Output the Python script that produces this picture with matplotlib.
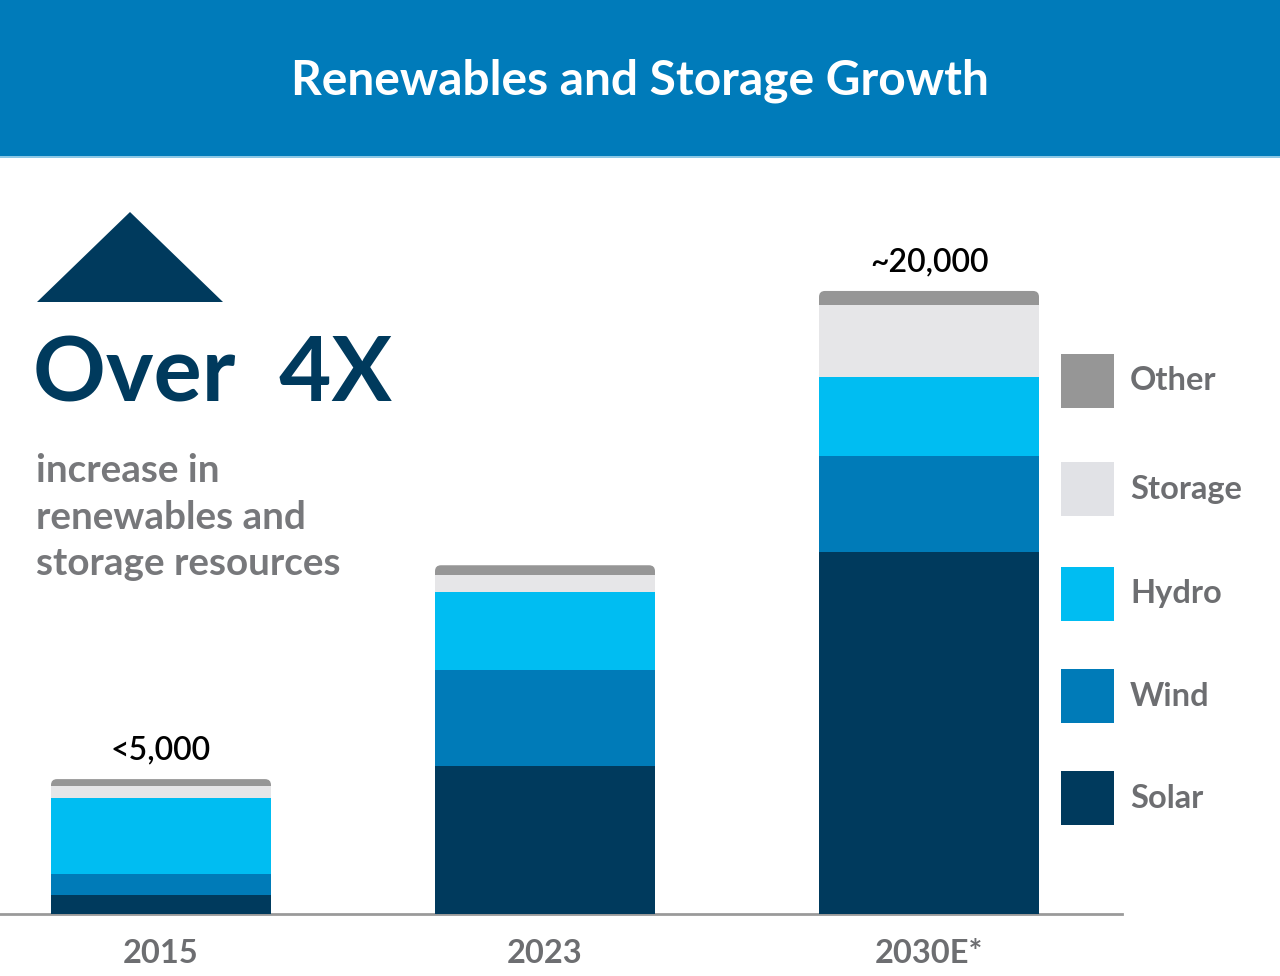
import matplotlib
matplotlib.use("Agg")
import matplotlib.pyplot as plt
from matplotlib.patches import Rectangle, Polygon, FancyBboxPatch

# ---- data ----
categories = ["2015", "2023", "2030E*"]
solar = [610, 4750, 11620]
wind = [670, 3080, 3080]
hydro = [2440, 2500, 2540]
storage = [385, 545, 2310]
other = [225, 320, 450]
total_labels = ["<5,000", "", "~20,000"]

series_names = ["Solar", "Wind", "Hydro", "Storage", "Other"]
series_colors = ["#003a5d", "#007bb8", "#00bdf2", "#e6e6e8", "#969696"]
legend_colors = ["#003a5d", "#007bb8", "#00bdf2", "#e1e2e6", "#969696"]

W, H = 1280, 976
fig = plt.figure(figsize=(W / 100, H / 100), dpi=100)
fig.patch.set_facecolor("white")


def fx(x):
    return x / W


def fy(y):
    return 1 - y / H


FONT = ["Lato", "DejaVu Sans"]

# header band
fig.patches.append(Rectangle((0, fy(157)), 1, 157 / H, transform=fig.transFigure,
                             facecolor="#007bba", edgecolor="none", zorder=0))
fig.patches.append(Rectangle((0, fy(158)), 1, 2 / H, transform=fig.transFigure,
                             facecolor="#8cc8e6", edgecolor="none", zorder=0))
fig.text(0.5, fy(81), "Renewables and Storage Growth", ha="center", va="center",
         fontsize=34.5, color="white", family=FONT, weight="bold")

# triangle
fig.patches.append(Polygon([(fx(37), fy(302)), (fx(223), fy(302)), (fx(130), fy(212))],
                           closed=True, transform=fig.transFigure,
                           facecolor="#003a5d", edgecolor="none"))
fig.text(fx(33), fy(402), "Over  4X", ha="left", va="baseline",
         fontsize=65, color="#003a5d", family=FONT, weight="bold")
for txt, base in [("increase in", 482), ("renewables and", 529), ("storage resources", 575)]:
    fig.text(fx(36), fy(base), txt, ha="left", va="baseline",
             fontsize=27.8, color="#77787b", family=FONT, weight="bold")

# main axes
ax_left, ax_right, ax_top, ax_bottom = 0, 1122, 157, 914
ax = fig.add_axes([fx(ax_left), fy(ax_bottom), (ax_right - ax_left) / W, (ax_bottom - ax_top) / H])
ax.set_facecolor("none")
px_per_unit_x = 384
x0_px = 161
ax.set_xlim(-x0_px / px_per_unit_x, (ax_right - x0_px) / px_per_unit_x)
ymax = 24300
ax.set_ylim(0, ymax)
bar_w = 220 / px_per_unit_x
positions = list(range(len(categories)))

layers = [solar, wind, hydro, storage, other]
totals = [sum(v) for v in zip(*layers)]

# rounded full-height patch in "Other" colour (visible as top segment)
r_px = 6
r_x = r_px / px_per_unit_x
ypx = ymax / (ax_bottom - ax_top)
aspect = (r_px * ypx) / r_x
for p, t in zip(positions, totals):
    ax.add_patch(FancyBboxPatch((p - bar_w / 2, 0), bar_w, t,
                                boxstyle=f"round,pad=0,rounding_size={r_x}",
                                mutation_aspect=aspect,
                                facecolor=series_colors[4], edgecolor="none", zorder=2))

bottom = [0] * len(categories)
for vals, col in zip(layers[:4], series_colors[:4]):
    ax.bar(positions, vals, bottom=bottom, width=bar_w, color=col, edgecolor="none", zorder=3)
    bottom = [b + v for b, v in zip(bottom, vals)]

for p, t, lab in zip(positions, totals, total_labels):
    if lab:
        ax.annotate(lab, (p, t), xytext=(0, 10), textcoords="offset points",
                    ha="center", va="bottom", fontsize=23, color="black", family=FONT,
                    weight="semibold")

for s in ["top", "right", "left"]:
    ax.spines[s].set_visible(False)
ax.spines["bottom"].set_color("#9a9a9a")
ax.spines["bottom"].set_linewidth(2)
ax.set_yticks([])
ax.set_xticks(positions)
ax.set_xticklabels(categories, fontsize=23.5, color="#6d6e71", family=FONT, weight="bold")
ax.tick_params(axis="x", length=0, pad=18)

# legend
leg_ys = [381, 489, 594, 696, 798]
for name, col, yc in zip(series_names[::-1], legend_colors[::-1], leg_ys):
    fig.patches.append(Rectangle((fx(1061), fy(yc + 27)), 53 / W, 54 / H,
                                 transform=fig.transFigure, facecolor=col, edgecolor="none"))
    fig.text(fx(1130), fy(yc), name, ha="left", va="center", fontsize=23.5,
             color="#6d6e71", family=FONT, weight="bold")

fig.savefig("out.png", dpi=100)
